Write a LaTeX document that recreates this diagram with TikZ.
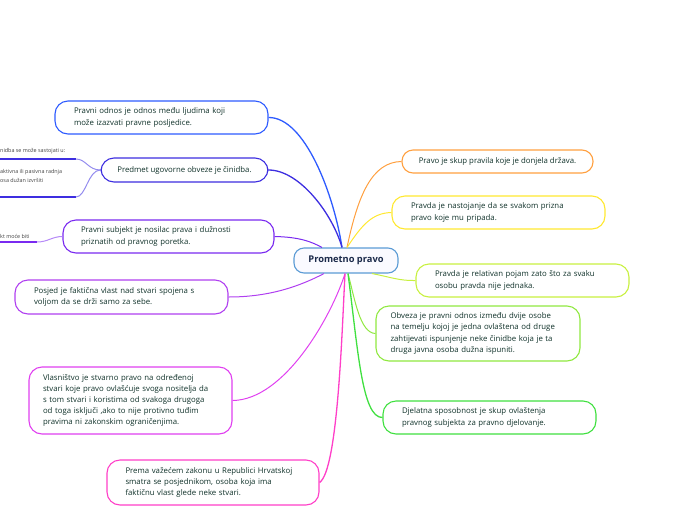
\documentclass[tikz,border=0pt]{standalone}
\usepackage{fontspec}
\setmainfont{Open Sans}
\usetikzlibrary{positioning, calc}

\definecolor{txt}{HTML}{10322A}
\definecolor{rootc}{HTML}{5B9BD5}
\definecolor{roottxt}{HTML}{1B2A4A}
\definecolor{cOdnos}{HTML}{2E5BFF}
\definecolor{cPredmet}{HTML}{3D2EE0}
\definecolor{cSubjekt}{HTML}{7A2AF0}
\definecolor{cPosjed}{HTML}{B040F0}
\definecolor{cVlasn}{HTML}{E040F0}
\definecolor{cPrema}{HTML}{FF3FC8}
\definecolor{cSkup}{HTML}{FFA040}
\definecolor{cNastoj}{HTML}{FFE830}
\definecolor{cRelat}{HTML}{C8F040}
\definecolor{cObveza}{HTML}{90E840}
\definecolor{cDjel}{HTML}{40E040}

\begin{document}
\begin{tikzpicture}[x=1pt, y=-1pt,
    topic/.style={draw=#1, line width=1.1pt, rounded corners=13pt, fill=white,
        text=txt, font=\fontsize{7.8}{11.2}\selectfont, inner sep=0pt,
        minimum width=213pt, minimum height=33pt, text width=175pt, align=left},
    link/.style={draw=#1, line width=1pt},
    leafline/.style={draw=#1, line width=2pt},
    leaftxt/.style={text=black!75, font=\fontsize{5.4}{8.8}\selectfont, inner sep=0pt}]
    \useasboundingbox (0,0) rectangle (696,520);

    % Central topic
    \node[draw=rootc, line width=1.1pt, rounded corners=10pt, fill=blue!2, text=roottxt,
        font=\fontsize{9.3}{11}\selectfont\bfseries, minimum width=104pt, minimum height=25pt,
        inner sep=0pt] (root) at (346,260.5) {Prometno pravo};

    % Left branches
    \node[topic=cOdnos] (odnos) at (161.5,117.5) {Pravni odnos je odnos među ljudima koji\\može izazvati pravne posljedice.};
    \node[topic=cPredmet, minimum width=167pt, minimum height=24pt, text width=, align=center] (predmet) at (184.5,170) {Predmet ugovorne obveze je činidba.};
    \node[topic=cSubjekt, minimum width=211pt] (subjekt) at (168.5,236.5) {Pravni subjekt je nosilac prava i dužnosti\\priznatih od pravnog poretka.};
    \node[topic=cPosjed, minimum height=34pt] (posjed) at (121.5,297) {Posjed je faktična vlast nad stvari spojena s\\voljom da se drži samo za sebe.};
    \node[topic=cVlasn, minimum width=203pt, minimum height=67pt] (vlasn) at (130.5,400.5) {Vlasništvo je stvarno pravo na određenoj\\stvari koje pravo ovlašćuje svoga nositelja da\\s tom stvari i koristima od svakoga drugoga\\od toga isključi ,ako to nije protivno tuđim\\pravima ni zakonskim ograničenjima.};
    \node[topic=cPrema, minimum width=212pt, minimum height=45pt] (prema) at (213,482.5) {Prema važećem zakonu u Republici Hrvatskoj\\smatra se posjednikom, osoba koja ima\\faktičnu vlast glede neke stvari.};

    % Right branches
    \node[topic=cSkup, minimum width=191pt, minimum height=23pt, rounded corners=11pt, text width=, align=center] (skup) at (497.5,161.5) {Pravo je skup pravila koje je donjela država.};
    \node[topic=cNastoj] (nastoj) at (498.5,212.5) {Pravda je nastojanje da se svakom prizna\\pravo koje mu pripada.};
    \node[topic=cRelat] (relat) at (522.5,280.5) {Pravda je relativan pojam zato što za svaku\\osobu pravda nije jednaka.};
    \node[topic=cObveza, minimum width=204pt, minimum height=55pt] (obveza) at (478,333.5) {Obveza je pravni odnos između dvije osobe\\na temelju kojoj je jedna ovlaštena od druge\\zahtijevati ispunjenje neke činidbe koja je ta\\druga javna osoba dužna ispuniti.};
    \node[topic=cDjel] (djel) at (489.5,417.5) {Djelatna sposobnost je skup ovlaštenja\\pravnog subjekta za pravno djelovanje.};

    % Hub points on the central topic
    \coordinate (hubNW) at ($(root.north)+(-4,0)$);
    \coordinate (hubN) at ($(root.north)+(1,0)$);
    \coordinate (hubSW) at ($(root.south)+(-1,0)$);
    \coordinate (hubS) at ($(root.south)+(2,0)$);

    % Connectors
    \draw[link=cOdnos, line width=1.3pt] (odnos.east) .. controls (305,117) and (334,195) .. (hubNW);
    \draw[link=cPredmet, line width=1.3pt] (predmet.east) .. controls (300,170) and (333,215) .. (hubNW);
    \draw[link=cSubjekt] (subjekt.east) .. controls (300,237) and (312,242) .. ($(root.north)+(-24,0)$);
    \draw[link=cPosjed] (posjed.east) .. controls (270,297) and (300,286) .. ($(root.south)+(-22,0)$);
    \draw[link=cVlasn] (vlasn.east) .. controls (285,400) and (332,315) .. (hubSW);
    \draw[link=cPrema, line width=1.3pt] (prema.east) .. controls (338,470) and (342,330) .. (hubSW);
    \draw[link=cSkup] (hubN) .. controls (358,195) and (372,162) .. (skup.west);
    \draw[link=cNastoj] (hubN) .. controls (362,225) and (372,213) .. (nastoj.west);
    \draw[link=cRelat] ($(root.south)+(26,0)$) .. controls (390,277) and (400,281) .. (relat.west);
    \draw[link=cObveza] (hubS) .. controls (355,300) and (360,333) .. (obveza.west);
    \draw[link=cDjel, line width=1.3pt] (hubS) .. controls (358,350) and (362,418) .. (djel.west);

    % Sub-topics of the obligation node (cut at the page edge)
    \node[leaftxt, anchor=west] (leafA) at (0,151) {nidba se može sastojati u:};
    \coordinate (endA) at (76,159);
    \draw[leafline=cPredmet] (0,159) -- (endA);
    \node[leaftxt, anchor=north west, align=left] (leafB) at (0,169) {aktivna ili pasivna radnja\\osa dužan izvršiti};
    \coordinate (endB) at (76,197);
    \draw[leafline=cPredmet] (0,197) -- (endB);
    \draw[link=cPredmet!55] (predmet.west) .. controls (88,170) and (86,159) .. (endA);
    \draw[link=cPredmet!55] (predmet.west) .. controls (88,170) and (86,197) .. (endB);

    % Sub-topic of the legal subject node
    \node[leaftxt, anchor=west] (leafC) at (0,236) {kt moće biti};
    \coordinate (endC) at (37,242);
    \draw[leafline=cSubjekt] (0,242) -- (endC);
    \draw[link=cSubjekt!55] (endC) .. controls (48,242) and (52,236.5) .. (subjekt.west);
\end{tikzpicture}
\end{document}
